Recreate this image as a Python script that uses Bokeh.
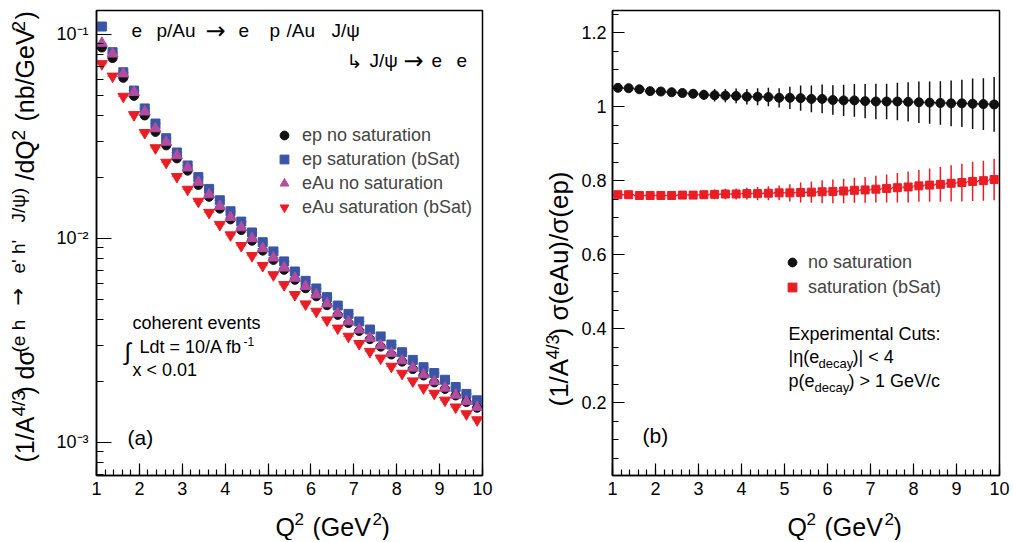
import math
from bokeh.plotting import figure
from bokeh.models import (Range1d, FixedTicker, SingleIntervalTicker, Label, Legend,
                          LegendItem, CustomJSTickFormatter)
from bokeh.layouts import row, column
from bokeh.embed import file_html
from bokeh.resources import INLINE

FONT = "Liberation Sans"
SYM = "DejaVu Sans"
BLACK = "#111111"
BLUE = "#3a55a6"
MAGENTA = "#b24d9f"
RED = "#ea1d25"

# ---------------- data ----------------
q2 = [1.125, 1.375, 1.625, 1.875, 2.125, 2.375, 2.625, 2.875, 3.125, 3.375, 3.625, 3.875,
      4.125, 4.375, 4.625, 4.875, 5.125, 5.375, 5.625, 5.875, 6.125, 6.375, 6.625, 6.875,
      7.125, 7.375, 7.625, 7.875, 8.125, 8.375, 8.625, 8.875, 9.125, 9.375, 9.625, 9.875]
bin_half = 0.125

ep_nosat = [0.0863, 0.0766, 0.0613, 0.0500, 0.0401, 0.0333, 0.0286, 0.0247, 0.0215, 0.0183,
            0.0160, 0.0140, 0.0124, 0.0110, 0.00975, 0.00872, 0.00785, 0.00702, 0.00627,
            0.00570, 0.00521, 0.00471, 0.00422, 0.00385, 0.00352, 0.00321, 0.00295, 0.00270,
            0.00249, 0.00229, 0.00213, 0.00197, 0.00183, 0.00170, 0.00158, 0.00148]
ep_sat = [0.1094, 0.0819, 0.0653, 0.0531, 0.0434, 0.0366, 0.0310, 0.0264, 0.0228, 0.0200,
          0.0175, 0.0154, 0.0136, 0.0121, 0.0107, 0.00959, 0.00864, 0.00772, 0.00689,
          0.00620, 0.00569, 0.00516, 0.00469, 0.00427, 0.00392, 0.00358, 0.00331, 0.00302,
          0.00277, 0.00254, 0.00234, 0.00219, 0.00203, 0.00187, 0.00173, 0.00161]
eAu_nosat = [0.0907, 0.0804, 0.0642, 0.0521, 0.0418, 0.0346, 0.0297, 0.0255, 0.0222, 0.0189,
             0.0164, 0.0144, 0.0127, 0.0113, 0.0100, 0.00893, 0.00804, 0.00718, 0.00640,
             0.00582, 0.00530, 0.00479, 0.00429, 0.00391, 0.00357, 0.00325, 0.00299, 0.00274,
             0.00252, 0.00232, 0.00215, 0.00199, 0.00185, 0.00171, 0.00159, 0.00149]
eAu_sat = [0.0718, 0.0624, 0.0497, 0.0404, 0.0330, 0.0278, 0.0236, 0.0201, 0.0174, 0.0152,
           0.0134, 0.0117, 0.0104, 0.00922, 0.00823, 0.00736, 0.00663, 0.00593, 0.00530,
           0.00477, 0.00439, 0.00398, 0.00363, 0.00331, 0.00305, 0.00279, 0.00259, 0.00236,
           0.00218, 0.00200, 0.00185, 0.00174, 0.00161, 0.00149, 0.00138, 0.00129]

ratio_nosat = [1.051, 1.050, 1.047, 1.042, 1.041, 1.039, 1.037, 1.035, 1.032, 1.031, 1.030, 1.029,
               1.027, 1.027, 1.026, 1.024, 1.024, 1.023, 1.021, 1.021, 1.018, 1.017, 1.017, 1.015,
               1.014, 1.014, 1.014, 1.013, 1.012, 1.011, 1.010, 1.009, 1.009, 1.008, 1.007, 1.006]
err_nosat = [0.003, 0.004, 0.005, 0.006, 0.008, 0.009, 0.010, 0.012, 0.014, 0.017, 0.018, 0.020,
             0.021, 0.023, 0.025, 0.026, 0.030, 0.034, 0.036, 0.039, 0.040, 0.042, 0.044, 0.046,
             0.048, 0.048, 0.051, 0.053, 0.056, 0.057, 0.059, 0.062, 0.064, 0.068, 0.070, 0.074]
ratio_sat = [0.762, 0.762, 0.760, 0.760, 0.760, 0.760, 0.761, 0.761, 0.762, 0.763, 0.764, 0.764,
             0.765, 0.765, 0.766, 0.767, 0.767, 0.768, 0.769, 0.770, 0.771, 0.772, 0.774, 0.775,
             0.777, 0.779, 0.781, 0.783, 0.786, 0.788, 0.790, 0.793, 0.795, 0.798, 0.800, 0.803]
err_sat = [0.002, 0.003, 0.004, 0.005, 0.006, 0.007, 0.008, 0.009, 0.011, 0.013, 0.014, 0.015,
           0.016, 0.018, 0.019, 0.020, 0.023, 0.027, 0.029, 0.031, 0.032, 0.033, 0.034, 0.035,
           0.036, 0.038, 0.040, 0.042, 0.043, 0.045, 0.047, 0.049, 0.051, 0.053, 0.054, 0.056]

labels_a = ["ep no saturation", "ep saturation (bSat)", "eAu no saturation", "eAu saturation (bSat)"]
labels_b = ["no saturation", "saturation (bSat)"]

# ---------------- geometry (page pixels) ----------------
H = 540
MAIN_H = 503
FRAME_TOP, FRAME_BOT = 10, 475
BASE_SHIFT = 0.3  # Bokeh's label box puts the glyph baseline this fraction of the size lower


def put(p, fx0, fy1, text, ix, iy, size, angle=0.0, font=FONT, color="black"):
    if angle:
        ix = ix - BASE_SHIFT * size
    else:
        iy = iy - BASE_SHIFT * size
    p.add_layout(Label(x=ix - fx0, y=fy1 - iy, x_units="screen", y_units="screen",
                       text=text, text_font=font, text_font_size=f"{size}px",
                       text_color=color, text_baseline="alphabetic", text_align="left",
                       angle=angle))


def strip(w, h):
    s = figure(width=w, height=h, x_range=Range1d(0, 1), y_range=Range1d(0, 1),
               x_axis_location=None, y_axis_location=None, min_border=0,
               output_backend="svg", toolbar_location=None)
    s.outline_line_color = None
    s.grid.visible = False
    s.background_fill_color = "white"
    s.border_fill_color = "white"
    return s


def style(p):
    p.outline_line_color = "black"
    p.outline_line_width = 1.5
    p.grid.visible = False
    p.background_fill_color = "white"
    p.border_fill_color = "white"
    for ax in (p.xaxis[0], p.yaxis[0]):
        ax.axis_line_width = 1.5
        ax.major_tick_in = 12
        ax.major_tick_out = 0
        ax.minor_tick_in = 6
        ax.minor_tick_out = 0
        ax.major_tick_line_width = 1.2
        ax.minor_tick_line_width = 1.2
        ax.major_label_text_font = FONT
        ax.major_label_text_font_size = "18px"
        ax.major_label_text_color = "black"
        ax.major_label_standoff = 6


def xlabel(s, sx0, fx0):
    base, sup = 534, 524
    put(s, sx0, H, "Q", fx0 + 137, base, 25)
    put(s, sx0, H, "2", fx0 + 156, sup, 17)
    put(s, sx0, H, "(GeV", fx0 + 174, base, 25)
    put(s, sx0, H, "2", fx0 + 234, sup, 17)
    put(s, sx0, H, ")", fx0 + 243, base, 25)


def ylabel(s, sx0, pieces, xbig, xsup, big=25, small=18):
    for text, kind, ystart in pieces:
        if kind == "big":
            put(s, sx0, H, text, xbig, ystart, big, angle=math.pi / 2)
        elif kind == "arrow":
            put(s, sx0, H, text, xsup, ystart, 21, angle=math.pi / 2, font=SYM)
        else:
            put(s, sx0, H, text, xsup, ystart, small, angle=math.pi / 2)


# ---------------- panel (a) ----------------
FXA = 95
pa = figure(width=474, height=MAIN_H, x_range=Range1d(1, 10), y_range=Range1d(6.89e-4, 0.1311),
            y_axis_type="log", output_backend="svg", toolbar_location=None,
            min_border_left=42, min_border_right=45, min_border_top=FRAME_TOP, min_border_bottom=28)
style(pa)
pa.xaxis.ticker = SingleIntervalTicker(interval=1, num_minor_ticks=5)
pa.yaxis.ticker = FixedTicker(ticks=[1e-3, 1e-2, 1e-1],
                              minor_ticks=[k * 10.0 ** e for e in (-4, -3, -2, -1) for k in range(2, 10)])
pa.yaxis.major_tick_in = 15
pa.yaxis.minor_tick_in = 7
pa.yaxis.major_label_standoff = 8
pa.yaxis.formatter = CustomJSTickFormatter(code="""
const e = Math.round(Math.log10(tick));
const sup = {"-1": "\u207b\u00b9", "-2": "\u207b\u00b2", "-3": "\u207b\u00b3"};
return "10" + (sup[String(e)] || String(e));
""")

x_lo = [x - bin_half for x in q2]
x_hi = [x + bin_half for x in q2]
for vals, col in ((ep_sat, BLUE), (ep_nosat, BLACK), (eAu_nosat, MAGENTA), (eAu_sat, RED)):
    pa.segment(x0=x_lo, y0=vals, x1=x_hi, y1=vals, line_color=col, line_width=1, line_alpha=0.6)

r_sat = pa.scatter(q2, ep_sat, marker="square", size=9, fill_color=BLUE, line_color=BLUE)
r_nos = pa.scatter(q2, ep_nosat, marker="circle", size=9, fill_color=BLACK, line_color=BLACK)
r_aun = pa.scatter(q2, eAu_nosat, marker="triangle", size=11, fill_color=MAGENTA, line_color=MAGENTA)
r_aus = pa.scatter(q2, eAu_sat, marker="inverted_triangle", size=11, fill_color=RED, line_color=RED)

leg_a = Legend(items=[LegendItem(label=labels_a[0], renderers=[r_nos]),
                      LegendItem(label=labels_a[1], renderers=[r_sat]),
                      LegendItem(label=labels_a[2], renderers=[r_aun]),
                      LegendItem(label=labels_a[3], renderers=[r_aus])],
               location=(177, 257), padding=0, margin=0, spacing=2,
               glyph_width=22, glyph_height=22, label_height=22, label_standoff=7,
               label_text_font=FONT, label_text_font_size="18px",
               border_line_alpha=0, background_fill_alpha=0)
pa.add_layout(leg_a)

# reaction text
for t, x in (("e", 130), ("p/Au", 155), ("e", 237), ("p", 268), ("/Au", 285), ("J/\u03c8", 330)):
    put(pa, FXA, FRAME_BOT, t, x, 36, 19)
put(pa, FXA, FRAME_BOT, "\u2192", 204, 38, 24, font=SYM)
put(pa, FXA, FRAME_BOT, "\u21b3", 345, 66, 19, font=SYM)
for t, x in (("J/\u03c8", 368), ("e", 430), ("e", 455)):
    put(pa, FXA, FRAME_BOT, t, x, 66, 19)
put(pa, FXA, FRAME_BOT, "\u2192", 402, 68, 24, font=SYM)

put(pa, FXA, FRAME_BOT, "coherent events", 131, 328, 18)
put(pa, FXA, FRAME_BOT, "\u222b", 123, 358, 24)
put(pa, FXA, FRAME_BOT, "Ldt = 10/A fb", 138, 352, 18)
put(pa, FXA, FRAME_BOT, "-1", 242, 345, 12)
put(pa, FXA, FRAME_BOT, "x < 0.01", 131, 375, 18)
put(pa, FXA, FRAME_BOT, "(a)", 126, 443, 21)

ya = strip(53, H)
ylabel(ya, 0, [("(1/A", "big", 462), ("4/3", "sup", 416), (")", "big", 394),
               ("d\u03c3", "big", 379), ("(e h", "sup", 352), ("\u2192", "arrow", 305),
               ("e' h'", "sup", 273), ("J/\u03c8)", "sup", 222), ("/dQ", "big", 180),
               ("2", "sup", 140), ("(nb/GeV", "big", 121), ("2", "sup", 31), (")", "big", 19)],
       32, 24, small=19)
xa = strip(474, H - MAIN_H)
xlabel(xa, 53, FXA)

# ---------------- panel (b) ----------------
FXB = 612
pb = figure(width=438, height=MAIN_H, x_range=Range1d(1, 10), y_range=Range1d(0.003, 1.26),
            output_backend="svg", toolbar_location=None,
            min_border_left=38, min_border_right=13, min_border_top=FRAME_TOP, min_border_bottom=28)
style(pb)
pb.xaxis.ticker = SingleIntervalTicker(interval=1, num_minor_ticks=5)
pb.yaxis.ticker = SingleIntervalTicker(interval=0.2, num_minor_ticks=4)
pb.yaxis.formatter = CustomJSTickFormatter(code="return (Math.round(tick*10)/10).toString();")

lo_n = [r - e for r, e in zip(ratio_nosat, err_nosat)]
hi_n = [r + e for r, e in zip(ratio_nosat, err_nosat)]
lo_s = [r - e for r, e in zip(ratio_sat, err_sat)]
hi_s = [r + e for r, e in zip(ratio_sat, err_sat)]
pb.segment(x0=q2, y0=lo_n, x1=q2, y1=hi_n, line_color=BLACK, line_width=1.5)
pb.segment(x0=x_lo, y0=ratio_nosat, x1=x_hi, y1=ratio_nosat, line_color=BLACK, line_width=1.5)
pb.segment(x0=q2, y0=lo_s, x1=q2, y1=hi_s, line_color=RED, line_width=1.5)
pb.segment(x0=x_lo, y0=ratio_sat, x1=x_hi, y1=ratio_sat, line_color=RED, line_width=1.5)
rb_n = pb.scatter(q2, ratio_nosat, marker="circle", size=9, fill_color=BLACK, line_color=BLACK)
rb_s = pb.scatter(q2, ratio_sat, marker="square", size=8, fill_color=RED, line_color=RED)

leg_b = Legend(items=[LegendItem(label=labels_b[0], renderers=[rb_n]),
                      LegendItem(label=labels_b[1], renderers=[rb_s])],
               location=(169, 177), padding=0, margin=0, spacing=3,
               glyph_width=22, glyph_height=22, label_height=22, label_standoff=5,
               label_text_font=FONT, label_text_font_size="18px",
               border_line_alpha=0, background_fill_alpha=0)
pb.add_layout(leg_b)

put(pb, FXB, FRAME_BOT, "(b)", 642, 441, 21)
put(pb, FXB, FRAME_BOT, "Experimental Cuts:", 788, 339, 18)
put(pb, FXB, FRAME_BOT, "|\u03b7(e", 788, 362, 18)
put(pb, FXB, FRAME_BOT, "decay", 818, 367, 13)
put(pb, FXB, FRAME_BOT, ")| < 4", 852, 362, 18)
put(pb, FXB, FRAME_BOT, "p(e", 788, 386, 18)
put(pb, FXB, FRAME_BOT, "decay", 814, 391, 13)
put(pb, FXB, FRAME_BOT, ") > 1 GeV/c", 848, 386, 18)

yb = strip(47, H)
ylabel(yb, 527, [("(1/A", "big", 406), ("4/3", "sup", 359), (") \u03c3(eAu)/\u03c3(ep)", "big", 336)],
       566, 558, big=26)
xb = strip(438, H - MAIN_H)
xlabel(xb, 574, FXB)

layout = row(ya, column(pa, xa), yb, column(pb, xb))
open("out.html", "w").write(file_html(layout, INLINE))
